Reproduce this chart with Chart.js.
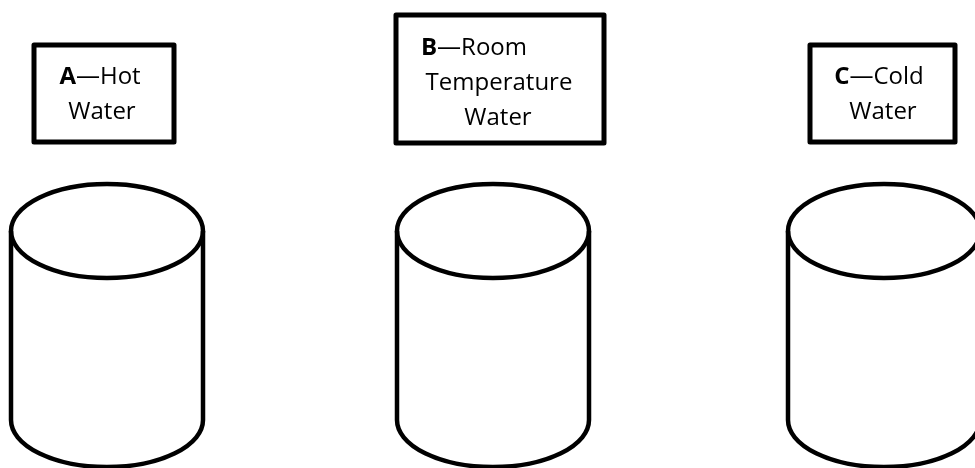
<!DOCTYPE html>
<html>
<head>
<meta charset="utf-8">
<script src="https://cdn.jsdelivr.net/npm/chart.js@4"></script>
<style>
html,body{margin:0;padding:0;background:#fff;}
#wrap{width:975px;height:468px;}
</style>
</head>
<body>
<div id="wrap"><canvas id="c" width="975" height="468"></canvas></div>
<script>
// ---- data ----
const containers = ['A', 'B', 'C'];
const boldLetters = ['A', 'B', 'C'];
const firstWords = ['Hot', 'Room', 'Cold'];
const extraLines = [['Water'], ['Temperature', 'Water'], ['Water']];

// ---- layout (positions in scale units, x: 0..975, y: 0..468 top-down) ----
const cylCx = [107, 493, 884];
const cylRx = 96, cylRy = 47, cylTop = 231, cylBottom = 420;
const boxes = [
  {x0: 34, x1: 174, y0: 45, y1: 142},
  {x0: 396, x1: 604, y0: 15, y1: 143},
  {x0: 810, x1: 955, y0: 45, y1: 142}
];
const firstLineY = [77, 48, 77];
const firstLineX = [100, 474, 879];   // centre of first line
const extraLineX = [[102], [499, 498], [883]];
const lineGap = 35;
const FONT = '"Open Sans", "DejaVu Sans", sans-serif';
const FS = 24;

const drawPlugin = {
  id: 'diagram',
  afterDatasetsDraw(chart) {
    const ctx = chart.ctx, xs = chart.scales.x, ys = chart.scales.y;
    const X = v => xs.getPixelForValue(v), Y = v => ys.getPixelForValue(v);
    ctx.save();
    ctx.strokeStyle = '#000';
    ctx.fillStyle = '#000';
    ctx.lineWidth = 4.5;
    // cylinders
    containers.forEach((name, i) => {
      const cx = X(cylCx[i]), rx = X(cylCx[i] + cylRx) - cx;
      const ty = Y(cylTop), by = Y(cylBottom), ry = Y(cylTop + cylRy) - ty;
      ctx.beginPath();
      ctx.ellipse(cx, ty, rx, ry, 0, 0, Math.PI * 2);
      ctx.stroke();
      ctx.beginPath();
      ctx.moveTo(cx - rx, ty); ctx.lineTo(cx - rx, by);
      ctx.ellipse(cx, by, rx, ry, 0, Math.PI, 0, true);
      ctx.lineTo(cx + rx, ty);
      ctx.stroke();
    });
    // label boxes
    ctx.lineWidth = 5;
    ctx.lineJoin = 'round';
    boxes.forEach(b => {
      ctx.strokeRect(X(b.x0), Y(b.y0), X(b.x1) - X(b.x0), Y(b.y1) - Y(b.y0));
    });
    // text
    ctx.textBaseline = 'middle';
    containers.forEach((name, i) => {
      const boldPart = boldLetters[i];
      const restPart = '\u2014' + firstWords[i];
      ctx.font = 'bold ' + FS + 'px ' + FONT;
      const wb = ctx.measureText(boldPart).width;
      ctx.font = FS + 'px ' + FONT;
      const wr = ctx.measureText(restPart).width;
      let x = X(firstLineX[i]) - (wb + wr) / 2;
      const y = Y(firstLineY[i]);
      ctx.textAlign = 'left';
      ctx.font = 'bold ' + FS + 'px ' + FONT;
      ctx.fillText(boldPart, x, y);
      ctx.font = FS + 'px ' + FONT;
      ctx.fillText(restPart, x + wb, y);
      ctx.textAlign = 'center';
      extraLines[i].forEach((t, j) => {
        ctx.fillText(t, X(extraLineX[i][j]), Y(firstLineY[i] + lineGap * (j + 1)));
      });
    });
    ctx.restore();
  }
};

new Chart(document.getElementById('c'), {
  type: 'scatter',
  data: { datasets: [{ data: [], showLine: false }] },
  options: {
    responsive: false,
    animation: false,
    layout: { padding: 0 },
    plugins: { legend: { display: false }, tooltip: { enabled: false } },
    scales: {
      x: { type: 'linear', min: 0, max: 975, display: false },
      y: { type: 'linear', min: 0, max: 468, reverse: true, display: false }
    }
  },
  plugins: [drawPlugin]
});
</script>
</body>
</html>
